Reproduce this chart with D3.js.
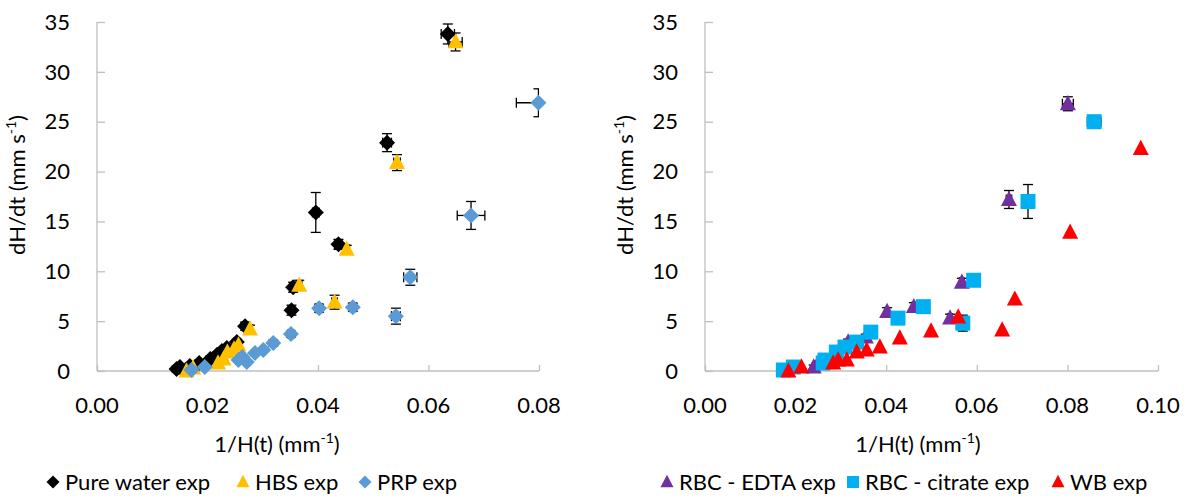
<!DOCTYPE html>
<html>
<head>
<meta charset="utf-8">
<script src="https://cdn.jsdelivr.net/npm/d3@7"></script>
<style>
  body { margin: 0; background: #fff; }
  text { font-family: Lato, "Liberation Sans", sans-serif; fill: #000; }
</style>
</head>
<body>
<script>
// left panel
var pureX = [0.0635, 0.0525, 0.0396, 0.0437, 0.0355, 0.0352, 0.0268, 0.0253, 0.0235, 0.0226, 0.0217, 0.0205, 0.0185, 0.0168, 0.0150, 0.0144];
var pureY = [33.8, 22.9, 15.9, 12.7, 8.4, 6.1, 4.5, 2.9, 2.3, 2.0, 1.6, 1.2, 0.8, 0.5, 0.4, 0.2];
var pureXErr = [0.0012, 0.0008, 0.0006, 0.0007, 0.0006, 0.0006, 0.0005, 0.0005, 0.0004, 0.0004, 0.0004, 0.0004, 0.0004, 0.0004, 0.0004, 0.0004];
var pureYErr = [1.0, 0.9, 2.0, 0.5, 0.5, 0.5, 0.4, 0.3, 0.3, 0.3, 0.3, 0.3, 0.3, 0.3, 0.3, 0.3];

var hbsX = [0.0649, 0.0543, 0.0452, 0.0366, 0.0430, 0.0277, 0.0256, 0.0248, 0.0236, 0.0229, 0.0219, 0.0174, 0.0162];
var hbsY = [33.0, 20.9, 12.2, 8.6, 6.9, 4.2, 2.6, 2.2, 1.9, 1.2, 0.8, 0.3, 0.0];
var hbsXErr = [0.0012, 0.0006, 0.0005, 0.0005, 0.0005, 0.0004, 0.0004, 0.0004, 0.0004, 0.0004, 0.0004, 0.0003, 0.0003];
var hbsYErr = [0.9, 0.8, 0.4, 0.5, 0.7, 0.4, 0.3, 0.3, 0.3, 0.2, 0.2, 0.2, 0.2];

var prpX = [0.0799, 0.0677, 0.0567, 0.0541, 0.0463, 0.0402, 0.0351, 0.0319, 0.0301, 0.0286, 0.0271, 0.0263, 0.0256, 0.0195, 0.0171];
var prpY = [26.9, 15.6, 9.4, 5.5, 6.4, 6.3, 3.7, 2.8, 2.1, 1.8, 0.9, 1.4, 1.1, 0.4, 0.1];
var prpXErr = [0.004, 0.0025, 0.0012, 0.0008, 0.0006, 0.0006, 0.0005, 0.0004, 0.0004, 0.0004, 0.0004, 0.0004, 0.0004, 0.0003, 0.0003];
var prpYErr = [1.4, 1.4, 0.8, 0.8, 0.4, 0.4, 0.3, 0.3, 0.2, 0.2, 0.2, 0.2, 0.2, 0.2, 0.2];

// right panel
var edtaX = [0.0801, 0.0671, 0.0567, 0.0541, 0.0461, 0.0402, 0.0355, 0.0316, 0.0250, 0.0240];
var edtaY = [26.8, 17.2, 8.9, 5.3, 6.45, 5.95, 3.4, 2.9, 0.8, 0.4];
var edtaXErr = [0.0012, 0.0006, 0.0005, 0.0005, 0.0004, 0.0004, 0.0004, 0.0003, 0.0003, 0.0003];
var edtaYErr = [0.7, 0.9, 0.4, 0.4, 0.4, 0.4, 0.3, 0.3, 0.2, 0.2];

var citX = [0.0859, 0.0713, 0.0593, 0.0569, 0.0482, 0.0426, 0.0366, 0.0335, 0.0309, 0.0290, 0.0265, 0.0261, 0.0195, 0.0173];
var citY = [25.0, 17.0, 9.1, 4.8, 6.45, 5.3, 3.9, 2.9, 2.4, 1.9, 1.1, 0.8, 0.4, 0.1];
var citXErr = [0.0015, 0.0005, 0.0005, 0.0005, 0.0004, 0.0004, 0.0004, 0.0003, 0.0003, 0.0003, 0.0003, 0.0003, 0.0003, 0.0003];
var citYErr = [0.5, 1.7, 0.4, 0.8, 0.3, 0.3, 0.3, 0.2, 0.2, 0.2, 0.2, 0.2, 0.2, 0.2];

var wbX = [0.0962, 0.0806, 0.0684, 0.0656, 0.0559, 0.0499, 0.0430, 0.0386, 0.0357, 0.0335, 0.0313, 0.0294, 0.0283, 0.0213, 0.0184];
var wbY = [22.3, 13.9, 7.2, 4.1, 5.4, 4.0, 3.3, 2.4, 2.1, 1.9, 1.1, 1.1, 0.8, 0.4, 0.0];

var yTicks = [0, 5, 10, 15, 20, 25, 30, 35];
var leftXTicks = [0, 0.02, 0.04, 0.06, 0.08];
var rightXTicks = [0, 0.02, 0.04, 0.06, 0.08, 0.10];

var width = 1187;
var height = 503;
var axisColor = "#bfbfbf";

var svg = d3.select("body").append("svg")
	.attr("width", width)
	.attr("height", height);

function zip(xs, ys, xe, ye) {
	return xs.map(function(x, i) {
		return { x: x, y: ys[i], xe: xe ? xe[i] : 0, ye: ye ? ye[i] : 0 };
	});
}

function markerPath(shape, s) {
	var h = s / 2;
	if (shape == "diamond") return "M0," + (-h) + "L" + h + ",0L0," + h + "L" + (-h) + ",0Z";
	if (shape == "square") return "M" + (-h) + "," + (-h) + "h" + s + "v" + s + "h" + (-s) + "Z";
	// triangle
	return "M0," + (-s * 0.55) + "L" + h + "," + (s * 0.4) + "L" + (-h) + "," + (s * 0.4) + "Z";
}

function panel(id, x0, x1, xMax, xTicks, series, titleX) {
	var x = d3.scaleLinear().domain([0, xMax]).range([x0, x1]);
	var y = d3.scaleLinear().domain([0, 35]).range([371, 22]);
	var g = svg.append("g");

	// y axis, ticks pointing inside
	var ya = g.append("g").attr("transform", "translate(" + x0 + ",0)")
		.call(d3.axisRight(y).tickValues(yTicks).tickSize(8).tickFormat(""));
	ya.select(".domain").remove();
	ya.selectAll("line").attr("stroke", axisColor).attr("stroke-width", 1.3);
	g.append("line").attr("x1", x0).attr("x2", x0).attr("y1", y(35)).attr("y2", y(0))
		.attr("stroke", axisColor).attr("stroke-width", 1.3);

	var xa = g.append("g").attr("transform", "translate(0,371)")
		.call(d3.axisTop(x).tickValues(xTicks).tickSize(6).tickFormat(""));
	xa.select(".domain").remove();
	xa.selectAll("line").attr("stroke", axisColor).attr("stroke-width", 1.3);
	g.append("line").attr("x1", x0).attr("x2", x1).attr("y1", 371).attr("y2", 371)
		.attr("stroke", axisColor).attr("stroke-width", 1.3);

	g.selectAll(".ylab").data(yTicks).enter().append("text")
		.attr("x", x0 - 27).attr("y", function(d) { return y(d); })
		.attr("dy", "0.35em").attr("text-anchor", "end")
		.attr("font-size", "22px")
		.text(function(d) { return d; });

	g.selectAll(".xlab").data(xTicks).enter().append("text")
		.attr("x", function(d) { return x(d); }).attr("y", 405)
		.attr("dy", "0.35em").attr("text-anchor", "middle")
		.attr("font-size", "22px")
		.text(function(d) { return d.toFixed(2); });

	// axis titles
	var xt = g.append("text").attr("x", titleX).attr("y", 452)
		.attr("text-anchor", "middle").attr("font-size", "22px");
	xt.append("tspan").text("1/H(t) (mm");
	xt.append("tspan").attr("font-size", "14px").attr("dy", "-9").text("-1");
	xt.append("tspan").attr("dy", "9").text(")");

	var yt = g.append("text")
		.attr("transform", "translate(" + (x0 - 72) + ",185) rotate(-90)")
		.attr("text-anchor", "middle").attr("font-size", "22px");
	yt.append("tspan").text("dH/dt (mm s");
	yt.append("tspan").attr("font-size", "14px").attr("dy", "-9").text("-1");
	yt.append("tspan").attr("dy", "9").text(")");

	svg.append("clipPath").attr("id", id)
		.append("rect").attr("x", x0).attr("y", 0).attr("width", x1 - x0).attr("height", 380);

	series.forEach(function(s) {
		var eg = g.append("g").attr("clip-path", "url(#" + id + ")")
			.attr("stroke", "#000").attr("stroke-width", 1.3);
		var pts = s.data.filter(function(d) { return d.xe > 0 || d.ye > 0; });
		var cap = 5;
		pts.forEach(function(d) {
			var cx = x(d.x), cy = y(d.y);
			if (d.ye > 0) {
				var yA = y(d.y + d.ye), yB = y(d.y - d.ye);
				eg.append("line").attr("x1", cx).attr("x2", cx).attr("y1", yA).attr("y2", yB);
				eg.append("line").attr("x1", cx - cap).attr("x2", cx + cap).attr("y1", yA).attr("y2", yA);
				eg.append("line").attr("x1", cx - cap).attr("x2", cx + cap).attr("y1", yB).attr("y2", yB);
			}
			if (d.xe > 0) {
				var xA = x(d.x - d.xe), xB = x(d.x + d.xe);
				eg.append("line").attr("x1", xA).attr("x2", xB).attr("y1", cy).attr("y2", cy);
				eg.append("line").attr("x1", xA).attr("x2", xA).attr("y1", cy - cap).attr("y2", cy + cap);
				eg.append("line").attr("x1", xB).attr("x2", xB).attr("y1", cy - cap).attr("y2", cy + cap);
			}
		});
		g.append("g").selectAll("path").data(s.data).enter().append("path")
			.attr("transform", function(d) { return "translate(" + x(d.x) + "," + y(d.y) + ")"; })
			.attr("d", markerPath(s.shape, s.size))
			.attr("fill", s.color);
	});
}

var leftSeries = [
	{ name: "Pure water exp", shape: "diamond", size: 16, color: "#000000", data: zip(pureX, pureY, pureXErr, pureYErr) },
	{ name: "HBS exp", shape: "triangle", size: 16, color: "#ffc000", data: zip(hbsX, hbsY, hbsXErr, hbsYErr) },
	{ name: "PRP exp", shape: "diamond", size: 16, color: "#5b9bd5", data: zip(prpX, prpY, prpXErr, prpYErr) }
];
var rightSeries = [
	{ name: "RBC - EDTA exp", shape: "triangle", size: 16, color: "#7030a0", data: zip(edtaX, edtaY, edtaXErr, edtaYErr) },
	{ name: "RBC - citrate exp", shape: "square", size: 15, color: "#00b0f0", data: zip(citX, citY, citXErr, citYErr) },
	{ name: "WB exp", shape: "triangle", size: 16, color: "#ff0000", data: zip(wbX, wbY) }
];

panel("clipL", 97, 539, 0.08, leftXTicks, leftSeries, 277);
panel("clipR", 705, 1158, 0.10, rightXTicks, rightSeries, 918);

// legends
function legend(series, xs) {
	series.forEach(function(s, i) {
		var g = svg.append("g").attr("transform", "translate(" + xs[i] + ",482)");
		g.append("path").attr("d", markerPath(s.shape, s.shape == "square" ? 12 : 13)).attr("fill", s.color);
		g.append("text").attr("x", 12).attr("dy", "0.35em").attr("font-size", "22px").text(s.name);
	});
}
legend(leftSeries, [53, 243, 365]);
legend(rightSeries, [667, 853, 1058]);
</script>
</body>
</html>
